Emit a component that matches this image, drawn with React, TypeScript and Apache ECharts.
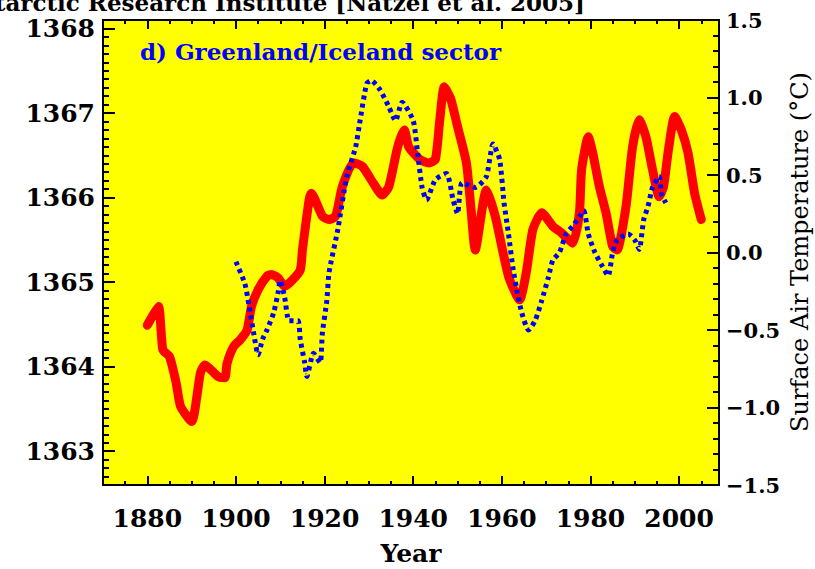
import React, { useEffect, useRef } from "react";
import * as echarts from "echarts";

// ---- Data ----
const tsiYears = [1880, 1882.5, 1883.5, 1885, 1886.5, 1887.5, 1890, 1892, 1893, 1896, 1897.5, 1898, 1899.5, 1901, 1902.5, 1903.5, 1905, 1907, 1908, 1909.5, 1911, 1912.5, 1914.5, 1915, 1916.5, 1917, 1919.5, 1921, 1922.5, 1924, 1926.5, 1928.5, 1931, 1933, 1934.5, 1936.5, 1938, 1939, 1941.5, 1943.5, 1945, 1946, 1947, 1948.5, 1950, 1952, 1953, 1954, 1956.5, 1958.5, 1961.5, 1964, 1965.5, 1967, 1969, 1971.5, 1973.5, 1976, 1977.5, 1978, 1979.5, 1980.5, 1982, 1983.5, 1985, 1986, 1988, 1989.5, 1991, 1992.5, 1994, 1995.5, 1996.5, 1997.5, 1999, 2000.5, 2002, 2003.5, 2005];
const tsiValues = [1364.49, 1364.71, 1364.2, 1364.12, 1363.81, 1363.53, 1363.35, 1363.93, 1364.02, 1363.88, 1363.87, 1364.04, 1364.24, 1364.32, 1364.43, 1364.71, 1364.91, 1365.07, 1365.09, 1365.05, 1364.95, 1365.01, 1365.14, 1365.38, 1365.97, 1366.05, 1365.78, 1365.74, 1365.78, 1366.13, 1366.41, 1366.37, 1366.17, 1366.03, 1366.13, 1366.6, 1366.8, 1366.6, 1366.45, 1366.41, 1366.45, 1366.92, 1367.31, 1367.16, 1366.84, 1366.41, 1365.89, 1365.38, 1366.09, 1365.78, 1365.07, 1364.79, 1365.11, 1365.62, 1365.82, 1365.66, 1365.58, 1365.46, 1365.82, 1366.33, 1366.72, 1366.53, 1366.13, 1365.82, 1365.42, 1365.38, 1365.89, 1366.6, 1366.92, 1366.72, 1366.33, 1366.01, 1366.13, 1366.53, 1366.96, 1366.8, 1366.53, 1366.05, 1365.74];

const tempYears = [1900, 1902, 1903, 1904, 1905, 1906, 1907, 1908.5, 1909.5, 1910, 1911, 1912, 1914, 1914.5, 1915.5, 1916, 1917.5, 1919, 1919.5, 1920.5, 1921, 1923, 1925, 1927, 1928, 1929.5, 1930.5, 1932.5, 1934.5, 1936, 1937.5, 1940, 1941, 1942, 1943, 1945, 1947.5, 1949, 1950, 1951, 1954, 1956.5, 1958, 1959.5, 1960.5, 1961.5, 1962.5, 1963.5, 1964.5, 1966, 1967.5, 1969, 1970.5, 1971.5, 1973, 1974.5, 1976, 1977.5, 1978.5, 1979.5, 1981, 1982.5, 1984, 1985, 1986, 1988.5, 1990, 1991, 1992, 1993, 1994, 1995.5, 1996, 1997];
const tempValues = [-0.06, -0.2, -0.35, -0.52, -0.66, -0.56, -0.5, -0.39, -0.26, -0.18, -0.29, -0.44, -0.44, -0.56, -0.71, -0.8, -0.65, -0.71, -0.52, -0.31, -0.13, 0.15, 0.49, 0.68, 0.85, 1.09, 1.11, 1.05, 0.94, 0.85, 0.97, 0.85, 0.64, 0.42, 0.34, 0.47, 0.51, 0.34, 0.25, 0.45, 0.42, 0.49, 0.7, 0.6, 0.32, 0.12, -0.1, -0.26, -0.39, -0.5, -0.44, -0.31, -0.16, -0.05, 0.0, 0.12, 0.17, 0.23, 0.27, 0.12, 0.0, -0.08, -0.15, 0.0, 0.08, 0.12, 0.08, 0.02, 0.21, 0.3, 0.42, 0.49, 0.38, 0.32];

const yearTicks = [1880, 1900, 1920, 1940, 1960, 1980, 2000];
const tsiTicks = [1363, 1364, 1365, 1366, 1367, 1368];

const titleText = "Arctic and Antarctic Research Institute [Natzel et al. 2005]";
const panelText = "d) Greenland/Iceland sector";
const xName = "Year";
const rightName = "Surface Air Temperature (\u00B0C)";

const FONT = "DejaVu Serif";

export default function App() {
  const ref = useRef<HTMLDivElement>(null);
  useEffect(() => {
    if (!ref.current) return;
    const chart = echarts.init(ref.current, null, { renderer: "svg" });
    const labelStyle = { fontFamily: FONT, fontWeight: "bold", color: "#000" };
    const noLine = { show: false, onZero: false };
    const hidden = { show: false };
    const tickLine = { color: "#000", width: 2 };
    const option: any = {
      animation: false,
      backgroundColor: "#ffffff",
      grid: {
        left: 103,
        top: 20,
        width: 616,
        height: 465,
        show: true,
        backgroundColor: "#ffff00",
        borderColor: "#000",
        borderWidth: 2,
      },
      xAxis: [
        {
          type: "value", position: "bottom", min: 1870, max: 2009, interval: 5,
          axisLine: noLine, splitLine: hidden,
          axisTick: { inside: true, length: 4, lineStyle: tickLine },
          axisLabel: {
            ...labelStyle, fontSize: 25, margin: 21,
            showMinLabel: false, showMaxLabel: false,
            formatter: (v: number) => (Math.abs(v % 20) < 1e-6 ? String(v) : ""),
          },
        },
        {
          type: "value", position: "bottom", min: 1870, max: 2009,
          axisLine: noLine, splitLine: hidden, axisLabel: hidden,
          axisTick: { inside: true, length: 9, customValues: yearTicks, lineStyle: tickLine },
        },
        {
          type: "value", position: "top", min: 1870, max: 2009, interval: 5,
          axisLine: noLine, splitLine: hidden, axisLabel: hidden,
          axisTick: { inside: true, length: 4, lineStyle: tickLine },
        },
        {
          type: "value", position: "top", min: 1870, max: 2009,
          axisLine: noLine, splitLine: hidden, axisLabel: hidden,
          axisTick: { inside: true, length: 9, customValues: yearTicks, lineStyle: tickLine },
        },
      ],
      yAxis: [
        {
          type: "value", position: "left", min: 1362.6, max: 1368.1, interval: 0.1,
          axisLine: noLine, splitLine: hidden,
          axisTick: { inside: true, length: 6, lineStyle: tickLine },
          axisLabel: {
            ...labelStyle, fontSize: 25, margin: 8,
            formatter: (v: number) => (Math.abs(v - Math.round(v)) < 1e-6 ? String(Math.round(v)) : ""),
          },
        },
        {
          type: "value", position: "left", min: 1362.6, max: 1368.1,
          axisLine: noLine, splitLine: hidden, axisLabel: hidden,
          axisTick: { inside: true, length: 12, customValues: tsiTicks, lineStyle: tickLine },
        },
        {
          type: "value", position: "right", min: -1.5, max: 1.5, interval: 0.1,
          axisLine: noLine, splitLine: hidden,
          axisTick: { inside: true, length: 6, lineStyle: tickLine },
          axisLabel: {
            ...labelStyle, fontSize: 21, margin: 7,
            formatter: (v: number) => {
              const r = Math.round(v * 10) / 10;
              if (Math.abs(r * 2 - Math.round(r * 2)) > 1e-6) return "";
              return r < 0 ? "\u2212" + Math.abs(r).toFixed(1) : r.toFixed(1);
            },
          },
        },
        {
          type: "value", position: "right", min: -1.5, max: 1.5, interval: 0.5,
          axisLine: noLine, splitLine: hidden, axisLabel: hidden,
          axisTick: { inside: true, length: 12, lineStyle: tickLine },
        },
      ],
      series: [
        {
          type: "line", xAxisIndex: 0, yAxisIndex: 0,
          data: tsiYears.map((y, i) => [y, tsiValues[i]]),
          symbol: "none", smooth: 0.2, z: 2,
          lineStyle: { color: "#ff0000", width: 9, join: "round", cap: "round" },
        },
        {
          type: "line", xAxisIndex: 0, yAxisIndex: 2,
          data: tempYears.map((y, i) => [y, tempValues[i]]),
          symbol: "none", smooth: 0.2, z: 3,
          lineStyle: { color: "#0000ff", width: 5, type: [4, 4] },
        },
      ],
      graphic: [
        {
          type: "text", x: 585, y: 13.5,
          style: { text: titleText, font: `bold 23px "${FONT}"`, fill: "#000", align: "right", verticalAlign: "bottom" },
        },
        {
          type: "text", x: 140, y: 51, z: 10,
          style: { text: panelText, font: `bold 23px "${FONT}"`, fill: "#0000ff", align: "left", verticalAlign: "middle" },
        },
        {
          type: "text", x: 411, y: 553,
          style: { text: xName, font: `bold 25px "${FONT}"`, fill: "#000", align: "center", verticalAlign: "middle" },
        },
        {
          type: "text", x: 800, y: 252, rotation: Math.PI / 2,
          style: { text: rightName, font: `24px "${FONT}"`, fill: "#000", align: "center", verticalAlign: "middle" },
        },
      ],
    };
    chart.setOption(option);
    return () => chart.dispose();
  }, []);
  return (
    <div
      ref={ref}
      style={{ position: "fixed", left: 0, top: 0, width: 815, height: 569, background: "#fff" }}
    />
  );
}
